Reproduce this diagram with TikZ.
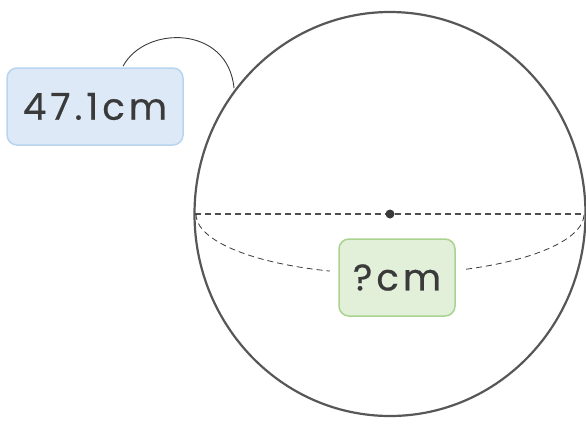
\documentclass[tikz,border=0pt]{standalone}
\usepackage{fontspec}
\newfontfamily\labelfont[LetterSpace=11, FakeBold=0.6]{Poppins}
\usetikzlibrary{positioning}

\definecolor{bluefill}{HTML}{DDE9F6}
\definecolor{blueline}{HTML}{B9D4EE}
\definecolor{greenfill}{HTML}{E2F0DA}
\definecolor{greenline}{HTML}{A9D38F}
\definecolor{inkgray}{HTML}{3A3A3A}

\tikzset{
    tag/.style={rounded corners=10pt, line width=1.5pt, text=inkgray,
        font=\labelfont\fontsize{37}{40}\selectfont, inner sep=0pt},
}

\begin{document}
\begin{tikzpicture}[x=1pt, y=-1pt]
            \useasboundingbox (0,0) rectangle (586,423);

            % ball outline and its equator
            \draw[line width=2.2pt, inkgray!85] (390,214) ellipse (195.5 and 202);
            \draw[line width=1.6pt, inkgray!90, dash pattern=on 6pt off 4pt] (194.5,214) -- (585.5,214);
            \draw[inkgray, line width=0.8pt, dash pattern=on 6pt off 4pt] (196,214) arc[start angle=180, end angle=0, x radius=194, y radius=60];
            \fill[inkgray] (390,214) circle (4.5pt);

            % labels
            \node[tag, draw=blueline, fill=bluefill, minimum width=176pt, minimum height=77pt] (len) at (95,106.5) {47.1cm};
            \node[tag, draw=greenline, fill=greenfill, minimum width=116pt, minimum height=77pt,
                preaction={draw=white, line width=18pt}] (diam) at (397,277.5) {?cm};

            \coordinate (rim) at (234,88);
            \draw[inkgray, line width=0.9pt] (len.north) ++(28,-1) .. controls (145,25) and (228,25) .. (rim);
        \end{tikzpicture}
\end{document}
